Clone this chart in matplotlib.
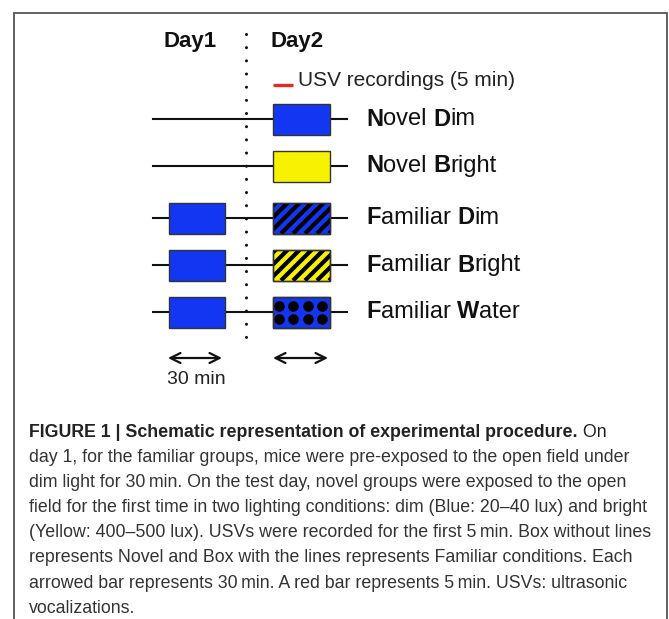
#!/usr/bin/env python3
"""Schematic of the experimental procedure (Figure 1) with caption."""

import matplotlib
matplotlib.use("Agg")
import matplotlib.pyplot as plt
from matplotlib.patches import Rectangle

W, H = 669, 619

# --- content -------------------------------------------------------------
CONDITIONS = ["Novel Dim", "Novel Bright", "Familiar Dim", "Familiar Bright", "Familiar Water"]
DAY1_BOX = [False, False, True, True, True]
DAY2_COLOR = ["blue", "yellow", "blue", "yellow", "blue"]
DAY2_PATTERN = [None, None, "stripes", "stripes", "dots"]
DAY_LABELS = ["Day1", "Day2"]
USV_LABEL = "USV recordings (5 min)"
ARROW_LABEL = "30 min"

CAPTION_TITLE = "FIGURE 1 | Schematic representation of experimental procedure."
CAPTION_LINES = [
    " On",
    "day 1, for the familiar groups, mice were pre-exposed to the open field under",
    "dim light for 30\u2009min. On the test day, novel groups were exposed to the open",
    "field for the first time in two lighting conditions: dim (Blue: 20\u201340 lux) and bright",
    "(Yellow: 400\u2013500 lux). USVs were recorded for the first 5\u2009min. Box without lines",
    "represents Novel and Box with the lines represents Familiar conditions. Each",
    "arrowed bar represents 30\u2009min. A red bar represents 5\u2009min. USVs: ultrasonic",
    "vocalizations.",
]

# --- layout (pixels, y downwards) ------------------------------------------
ROW_Y = [119, 166, 218, 265, 312]
LINE_X = (153, 347)
DAY1_BOX_X = (169, 225)
DAY2_BOX_X = (273, 330)
BOX_H = 31
DIVIDER_X = 246
LABEL_X = 366
FILL = {"blue": "#1236f2", "yellow": "#f7f200"}

DIAG_FONT = "Liberation Sans"
CAP_FONT = "Liberation Sans"

fig = plt.figure(figsize=(W / 100, H / 100), dpi=100)
ax = fig.add_axes([0, 0, 1, 1])
ax.set_xlim(0, W)
ax.set_ylim(H, 0)
ax.axis("off")
renderer = fig.canvas.get_renderer()


def text_width(t):
    return t.get_window_extent(renderer).width


def draw_runs(x, y, runs, size, color, family, va="center"):
    """Draw consecutive text runs of (string, weight)."""
    for s, weight in runs:
        t = ax.text(x, y, s, fontsize=size, fontweight=weight, color=color,
                    family=family, ha="left", va=va)
        x += text_width(t)
    return x


# frame
ax.plot([14, 14, 667, 667], [H, 13, 13, H], color="#555555", lw=1.3,
        solid_joinstyle="miter")

# day headers and divider
ax.text(190, 42, DAY_LABELS[0], fontsize=16, fontweight="bold", family=DIAG_FONT,
        ha="center", va="center", color="#111111")
ax.text(297, 42, DAY_LABELS[1], fontsize=16, fontweight="bold", family=DIAG_FONT,
        ha="center", va="center", color="#111111")
ax.plot([DIVIDER_X, DIVIDER_X], [34, 338], color="#111111", lw=2.2,
        ls=(0, (0.01, 4.3)), dash_capstyle="round")

# USV legend
ax.plot([273, 293], [85, 85], color="#e52a1e", lw=2.4, solid_capstyle="butt")
ax.text(298, 81, USV_LABEL, fontsize=15, family=DIAG_FONT, ha="left", va="center",
        color="#222222")


def hatch_box(x0, x1, yc, pattern, clip):
    y0, y1 = yc - BOX_H / 2, yc + BOX_H / 2
    if pattern == "stripes":
        step = 12
        x = x0 - BOX_H + 3
        while x < x1 + 2:
            ln, = ax.plot([x, x + BOX_H], [y1, y0], color="black", lw=3.0,
                          solid_capstyle="butt", zorder=3)
            ln.set_clip_path(clip)
            x += step
    elif pattern == "dots":
        xs, ys = [], []
        for r in (-6.5, 6.5):
            for c in range(4):
                xs.append(x0 + 5.5 + c * 14.5)
                ys.append(yc + r)
        sc = ax.scatter(xs, ys, s=58, color="black", zorder=3, linewidths=0)
        sc.set_clip_path(clip)


for i, name in enumerate(CONDITIONS):
    y = ROW_Y[i]
    ax.plot(LINE_X, [y, y], color="#111111", lw=1.5, zorder=1)
    if DAY1_BOX[i]:
        ax.add_patch(Rectangle((DAY1_BOX_X[0], y - BOX_H / 2),
                               DAY1_BOX_X[1] - DAY1_BOX_X[0], BOX_H,
                               facecolor=FILL["blue"], edgecolor="#333333", lw=1.0, zorder=2))
    box = Rectangle((DAY2_BOX_X[0], y - BOX_H / 2), DAY2_BOX_X[1] - DAY2_BOX_X[0], BOX_H,
                    facecolor=FILL[DAY2_COLOR[i]], edgecolor="#333333", lw=1.0, zorder=2)
    ax.add_patch(box)
    if DAY2_PATTERN[i]:
        hatch_box(DAY2_BOX_X[0], DAY2_BOX_X[1], y, DAY2_PATTERN[i], box)
        edge = Rectangle((DAY2_BOX_X[0], y - BOX_H / 2), DAY2_BOX_X[1] - DAY2_BOX_X[0], BOX_H,
                         facecolor="none", edgecolor="#333333", lw=1.0, zorder=4)
        ax.add_patch(edge)
    # label with bold initials
    runs = []
    for j, word in enumerate(name.split()):
        if j:
            runs.append((" ", "normal"))
        runs.append((word[0], "bold"))
        runs.append((word[1:], "normal"))
    draw_runs(LABEL_X, y, runs, 17, "#111111", DIAG_FONT)

# scale arrows
for x0, x1 in [(168, 222), (273, 328)]:
    ax.annotate("", xy=(x1, 358), xytext=(x0, 358),
                arrowprops=dict(arrowstyle="<->", color="#111111", lw=1.6,
                                mutation_scale=18, shrinkA=0, shrinkB=0))
ax.text(196, 380, ARROW_LABEL, fontsize=14, family=DIAG_FONT, ha="center", va="center",
        color="#222222")

# caption: fit font size so the widest line spans the column
probe = ax.text(0, 0, CAPTION_LINES[4], fontsize=10, family=CAP_FONT)
cap_size = 10 * 623 / text_width(probe)
probe.remove()

cap_x = 29
baselines = [437 + 25.1 * k for k in range(len(CAPTION_LINES))]
draw_runs(cap_x, baselines[0], [(CAPTION_TITLE, "bold"), (CAPTION_LINES[0], "normal")],
          cap_size, "#222222", CAP_FONT, va="baseline")
for k in range(1, len(CAPTION_LINES)):
    ax.text(cap_x, baselines[k], CAPTION_LINES[k], fontsize=cap_size, family=CAP_FONT,
            color="#333333", ha="left", va="baseline")

fig.savefig("out.png", dpi=100, facecolor="white")
